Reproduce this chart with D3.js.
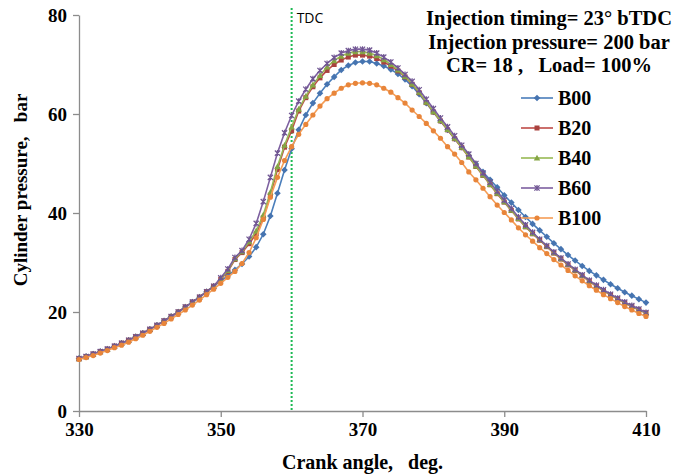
<!DOCTYPE html>
<html>
<head>
<meta charset="utf-8">
<script src="https://cdn.jsdelivr.net/npm/d3@7"></script>
<style>
  body { margin: 0; background: #fff; }
  svg text { font-family: "Liberation Serif", "Times New Roman", serif; font-weight: bold; }
</style>
</head>
<body>
<script>
var angles = [330,331,332,333,334,335,336,337,338,339,340,341,342,343,344,345,346,347,348,349,
  350,351,352,353,354,355,356,357,358,359,360,361,362,363,364,365,366,367,368,369,
  370,371,372,373,374,375,376,377,378,379,380,381,382,383,384,385,386,387,388,389,
  390,391,392,393,394,395,396,397,398,399,400,401,402,403,404,405,406,407,408,409,410];

var b00 = [10.6,11.0,11.5,12.0,12.5,13.1,13.7,14.3,15.0,15.7,16.5,17.3,18.2,19.1,20.0,21.0,22.0,23.0,24.1,25.2,
  26.3,27.3,28.5,29.7,31.2,33.1,35.7,39.4,44.0,48.7,
  53.0,56.8,59.8,62.2,64.2,66.0,67.5,68.9,69.8,70.4,
  70.6,70.6,70.2,69.7,69.0,68.1,67.0,65.6,64.0,62.2,
  60.4,58.6,56.8,55.0,53.3,51.6,49.9,48.3,46.7,45.2,
  43.6,42.1,40.6,39.2,37.8,36.5,35.2,33.9,32.7,31.5,
  30.4,29.3,28.3,27.4,26.5,25.6,24.8,24.0,23.3,22.6,21.9];

var b20 = [10.6,11.0,11.5,12.0,12.5,13.1,13.7,14.3,15.0,15.7,16.5,17.3,18.2,19.1,20.0,21.0,22.0,23.0,24.1,25.2,
  26.6,28.2,30.6,32.0,33.8,35.8,39.0,43.6,48.8,53.3,
  56.6,60.6,63.3,65.5,67.3,68.8,70.0,70.9,71.5,71.9,
  71.9,71.7,71.2,70.5,69.7,68.7,67.5,66.0,64.3,62.3,
  60.4,58.6,56.8,55.0,53.2,51.3,49.4,47.6,45.7,43.9,
  42.2,40.5,38.8,37.2,35.8,34.5,33.2,31.9,30.7,29.5,
  28.4,27.3,26.2,25.2,24.3,23.4,22.6,21.8,21.1,20.4,19.8];

var b40 = [10.6,11.0,11.5,12.0,12.5,13.1,13.7,14.3,15.0,15.7,16.5,17.3,18.2,19.1,20.0,21.0,22.0,23.0,24.1,25.2,
  26.7,28.4,30.8,32.2,34.2,36.4,39.6,44.2,49.4,53.7,
  57.4,61.0,63.6,65.9,67.8,69.5,70.8,71.7,72.3,72.6,
  72.6,72.3,71.8,71.0,70.0,68.9,67.6,66.1,64.4,62.4,
  60.5,58.7,56.9,55.1,53.3,51.4,49.5,47.7,45.8,44.0,
  42.3,40.6,38.9,37.3,35.9,34.6,33.3,32.0,30.8,29.6,
  28.5,27.4,26.3,25.3,24.4,23.5,22.7,21.9,21.2,20.5,19.8];

var b60 = [10.6,11.0,11.5,12.0,12.5,13.1,13.7,14.3,15.0,15.7,16.5,17.3,18.2,19.1,20.0,21.0,22.0,23.0,24.1,25.2,
  26.9,28.7,31.0,32.4,34.7,37.9,42.3,47.2,52.1,56.2,
  59.7,62.6,65.0,67.1,68.8,70.2,71.4,72.3,72.8,73.1,
  73.1,72.9,72.3,71.5,70.5,69.3,68.0,66.6,64.9,63.0,
  61.1,59.2,57.4,55.6,53.7,51.9,50.0,48.1,46.2,44.4,
  42.6,40.9,39.2,37.6,36.1,34.7,33.4,32.1,30.9,29.7,
  28.6,27.5,26.4,25.4,24.5,23.6,22.8,22.0,21.3,20.6,19.9];

var b100 = [10.4,10.8,11.2,11.7,12.2,12.8,13.3,13.9,14.6,15.3,16.1,16.9,17.7,18.6,19.5,20.4,21.4,22.4,23.5,24.6,
  25.8,27.0,28.2,29.8,32.0,35.0,38.7,43.2,47.2,50.6,
  53.4,55.9,57.9,59.8,61.6,63.1,64.2,65.2,65.9,66.2,
  66.3,66.2,65.9,65.2,64.4,63.3,62.2,60.8,59.5,58.1,
  56.6,55.1,53.4,51.9,50.2,48.3,46.7,45.0,43.3,41.6,
  40.1,38.6,37.0,35.6,34.3,33.0,31.8,30.6,29.5,28.4,
  27.3,26.3,25.3,24.4,23.5,22.7,21.9,21.1,20.4,19.7,19.1];

var seriesNames = ["B00", "B20", "B40", "B60", "B100"];
var seriesValues = [b00, b20, b40, b60, b100];
var seriesColors = ["#4A7EBB", "#BE4B48", "#98B954", "#7D60A0", "#F59D56"];
var markerColors = ["#4674B0", "#A9423F", "#85A544", "#6F5592", "#E8853A"];
var markerShapes = ["diamond", "square", "triangle", "star", "circle"];

var xTicks = [330, 350, 370, 390, 410];
var yTicks = [0, 20, 40, 60, 80];
var tdcAngle = 360;
var noteLines = ["Injection timing= 23\u00b0 bTDC", "Injection pressure= 200 bar", "CR= 18 ,\u00a0\u00a0 Load= 100%"];

var width = 681,
    height = 476,
    margin = {left: 79, right: 35, top: 15, bottom: 65};

var svg = d3.select("body").append("svg")
  .attr("width", width)
  .attr("height", height);

var x = d3.scaleLinear().domain([330, 410]).range([margin.left, width - margin.right]);
var y = d3.scaleLinear().domain([0, 80]).range([height - margin.bottom, margin.top]);

// axes
var xAxis = svg.append("g")
  .attr("transform", "translate(0," + y(0) + ")")
  .call(d3.axisBottom(x).tickValues(xTicks).tickSize(6).tickSizeOuter(0).tickPadding(6));
var yAxis = svg.append("g")
  .attr("transform", "translate(" + x(330) + ",0)")
  .call(d3.axisLeft(y).tickValues(yTicks).tickSize(6).tickSizeOuter(0).tickPadding(6));

[xAxis, yAxis].forEach(function(g) {
  g.select(".domain").attr("stroke", "#8c8c8c").attr("stroke-width", 1.3);
  g.selectAll(".tick line").attr("stroke", "#8c8c8c").attr("stroke-width", 1.3);
  g.selectAll(".tick text")
    .attr("fill", "#000")
    .style("font-size", "19px")
    .style("font-family", "'Liberation Serif', serif")
    .style("font-weight", "bold");
});

// TDC line
svg.append("line")
  .attr("x1", x(tdcAngle)).attr("x2", x(tdcAngle))
  .attr("y1", 8).attr("y2", y(0))
  .attr("stroke", "#1DB954")
  .attr("stroke-width", 2)
  .attr("stroke-dasharray", "2,2");
svg.append("text")
  .attr("x", x(tdcAngle) + 5)
  .attr("y", 23)
  .style("font-family", "'Open Sans', 'DejaVu Sans', sans-serif")
  .style("font-weight", "normal")
  .style("font-size", "14px")
  .text("TDC");

function marker(sel, shape, color) {
  if (shape == "circle") {
    sel.append("circle").attr("r", 2.6).attr("fill", color);
  } else if (shape == "square") {
    sel.append("rect").attr("x", -2.5).attr("y", -2.5).attr("width", 5).attr("height", 5).attr("fill", color);
  } else if (shape == "diamond") {
    sel.append("path").attr("d", "M0,-3.3L3.3,0L0,3.3L-3.3,0Z").attr("fill", color);
  } else if (shape == "triangle") {
    sel.append("path").attr("d", "M0,-3.2L3.2,2.6L-3.2,2.6Z").attr("fill", color);
  } else {
    sel.append("path").attr("d", "M-2.6,-2.6L2.6,2.6M-2.6,2.6L2.6,-2.6M0,-3L0,3")
      .attr("stroke", color).attr("stroke-width", 1.2).attr("fill", "none");
  }
}

var line = d3.line()
  .x(function(d) { return x(d[0]); })
  .y(function(d) { return y(d[1]); });

for (var s = 0; s < seriesNames.length; s++) {
  var pts = angles.map(function(a, i) { return [a, seriesValues[s][i]]; });
  var g = svg.append("g");
  g.append("path")
    .datum(pts)
    .attr("d", line)
    .attr("fill", "none")
    .attr("stroke", seriesColors[s])
    .attr("stroke-width", 1.6);
  g.selectAll("g.m").data(pts).enter()
    .append("g")
    .attr("class", "m")
    .attr("transform", function(d) { return "translate(" + x(d[0]) + "," + y(d[1]) + ")"; })
    .each(function() { marker(d3.select(this), markerShapes[s], markerColors[s]); });
}

// note text
svg.selectAll("text.note").data(noteLines).enter()
  .append("text")
  .attr("class", "note")
  .attr("x", 549)
  .attr("y", function(d, i) { return 25 + i * 23.5; })
  .attr("text-anchor", "middle")
  .style("font-size", "20.5px")
  .text(function(d) { return d; });

// legend
var legend = svg.append("g");
for (var k = 0; k < seriesNames.length; k++) {
  var ly = 98 + k * 30;
  legend.append("line")
    .attr("x1", 521).attr("x2", 553)
    .attr("y1", ly).attr("y2", ly)
    .attr("stroke", seriesColors[k]).attr("stroke-width", 1.6);
  var lm = legend.append("g").attr("transform", "translate(537," + ly + ")");
  marker(lm, markerShapes[k], markerColors[k]);
  legend.append("text")
    .attr("x", 558).attr("y", ly + 7)
    .style("font-size", "20px")
    .text(seriesNames[k]);
}

// axis titles
svg.append("text")
  .attr("x", (x(330) + x(410)) / 2)
  .attr("y", 469)
  .attr("text-anchor", "middle")
  .style("font-size", "20px")
  .text("Crank angle,\u00a0\u00a0 deg.");
svg.append("text")
  .attr("transform", "translate(27,190) rotate(-90)")
  .attr("text-anchor", "middle")
  .style("font-size", "19px")
  .text("Cylinder pressure,\u00a0\u00a0 bar");
</script>
</body>
</html>
